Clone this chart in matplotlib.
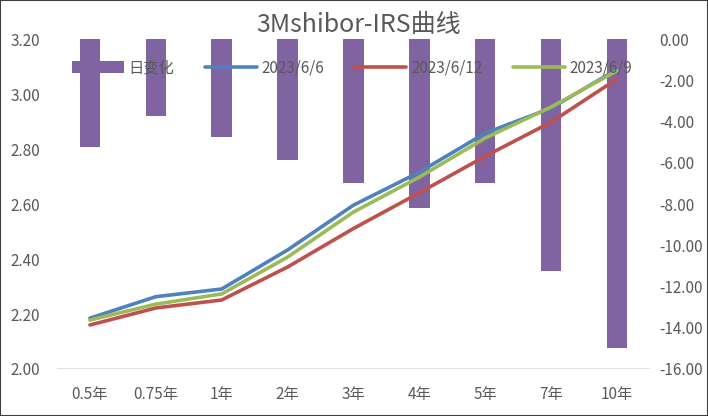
import matplotlib
matplotlib.use('Agg')
import matplotlib.pyplot as plt
from matplotlib.patches import Rectangle

plt.rcParams['font.family'] = ['Noto Sans CJK SC', 'DejaVu Sans']

# 期限
tenors = ['0.5年', '0.75年', '1年', '2年', '3年', '4年', '5年', '7年', '10年']

# 日变化 (bp, 右轴)
daily_change = [-5.24, -3.73, -4.75, -5.87, -6.98, -8.19, -6.98, -11.25, -14.98]

# 曲线 (%, 左轴)
curve_0606 = [2.185, 2.263, 2.291, 2.433, 2.596, 2.716, 2.858, 2.949, 3.090]
curve_0612 = [2.160, 2.222, 2.251, 2.371, 2.511, 2.641, 2.774, 2.898, 3.055]
curve_0609 = [2.178, 2.236, 2.273, 2.407, 2.571, 2.698, 2.840, 2.953, 3.085]

text_color = '#595959'

fig = plt.figure(figsize=(7.08, 4.16), dpi=100)
ax_bar = fig.add_axes([0.0805, 0.113, 0.8375, 0.793])
ax_line = ax_bar.twinx()

x = list(range(len(tenors)))

# 柱状图 - 日变化
bars = ax_bar.bar(x, daily_change, width=0.31, color='#8064A2', label='日变化')
ax_bar.set_ylim(-16, 0)
ax_bar.set_yticks([0, -2, -4, -6, -8, -10, -12, -14, -16])
ax_bar.set_yticklabels([f'{v:.2f}' for v in [0, -2, -4, -6, -8, -10, -12, -14, -16]])
ax_bar.yaxis.tick_right()

# 折线
l1, = ax_line.plot(x, curve_0606, color='#4F81BD', linewidth=2.6, label='2023/6/6',
                   solid_capstyle='round')
l2, = ax_line.plot(x, curve_0612, color='#C0504D', linewidth=2.6, label='2023/6/12',
                   solid_capstyle='round')
l3, = ax_line.plot(x, curve_0609, color='#9BBB59', linewidth=2.6, label='2023/6/9',
                   solid_capstyle='round')
ax_line.set_ylim(2.0, 3.2)
ax_line.set_yticks([2.0, 2.2, 2.4, 2.6, 2.8, 3.0, 3.2])
ax_line.set_yticklabels([f'{v:.2f}' for v in [2.0, 2.2, 2.4, 2.6, 2.8, 3.0, 3.2]])
ax_line.yaxis.tick_left()

ax_bar.set_xlim(-0.5, len(tenors) - 0.5)
ax_bar.set_xticks(x)
ax_bar.set_xticklabels(tenors)

for a in (ax_bar, ax_line):
    for side in ['top', 'left', 'right', 'bottom']:
        a.spines[side].set_visible(False)
    a.tick_params(length=0, labelsize=11, colors=text_color)
ax_bar.tick_params(axis='x', pad=12)
ax_bar.tick_params(axis='y', pad=7)
ax_line.tick_params(axis='y', pad=12)

# 2.00 基线
ax_line.axhline(2.0, color='#D9D9D9', linewidth=1.2, zorder=0)

fig.suptitle('3Mshibor-IRS曲线', x=0.507, y=0.94, va='center', fontsize=18,
             color=text_color)

leg = ax_line.legend(handles=[bars, l1, l2, l3], loc='center', ncol=4,
                     bbox_to_anchor=(0.497, 0.837), bbox_transform=fig.transFigure,
                     frameon=False, fontsize=11, handlelength=3.4, handleheight=0.9,
                     handletextpad=0.3, columnspacing=2.0, labelcolor=text_color)

# 外边框
fig.patches.append(Rectangle((0, 0), 1, 1, transform=fig.transFigure, fill=False,
                             edgecolor='#404040', linewidth=1.5))

fig.savefig('out.png', dpi=100)
